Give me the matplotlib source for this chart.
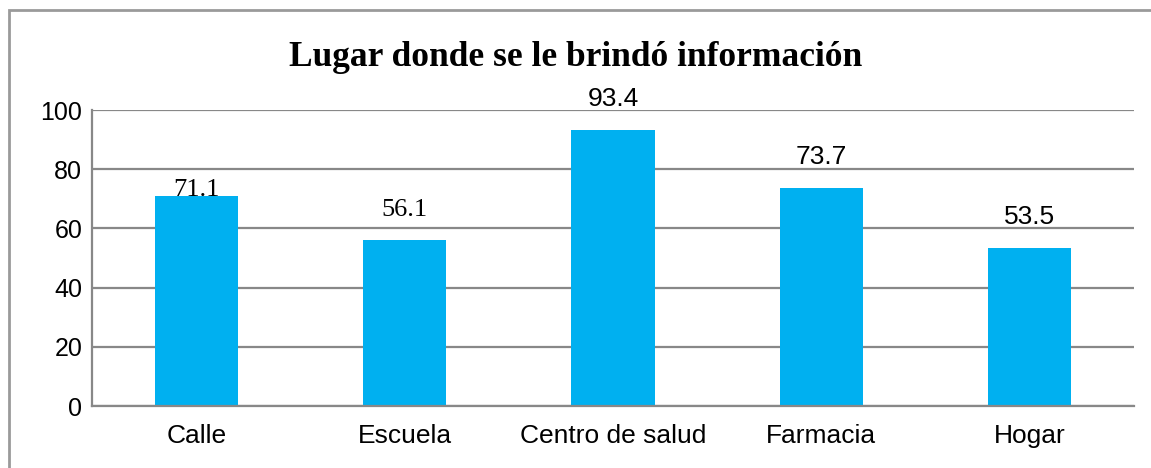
import matplotlib
matplotlib.use("Agg")
import matplotlib.pyplot as plt
from matplotlib.patches import Rectangle

# datos
lugares = ["Calle", "Escuela", "Centro de salud", "Farmacia", "Hogar"]
porcentajes = [71.1, 56.1, 93.4, 73.7, 53.5]
etiquetas = ["71.1", "56.1", "93.4", "73.7", "53.5"]
yticks = [0, 20, 40, 60, 80, 100]

W, H = 1151, 468
fig = plt.figure(figsize=(W / 100, H / 100), dpi=100)
fig.patch.set_facecolor("white")

# marco exterior
fig.patches.append(Rectangle((9 / W, -0.1), 1.2, 1.1 - 10 / H, transform=fig.transFigure,
                             fill=False, edgecolor="#9a9a9a", linewidth=2))

ax = fig.add_axes([92 / W, (H - 406) / H, (1134 - 92) / W, (406 - 110) / H])
x = range(len(lugares))
ax.bar(x, porcentajes, width=0.4, color="#00b0f0", zorder=2)

ax.set_xlim(-0.5, len(lugares) - 0.5)
ax.set_ylim(0, 100)
ax.set_yticks(yticks)
ax.set_yticklabels([str(t) for t in yticks], fontsize=18, family="Liberation Sans")
ax.set_xticks(list(x))
ax.set_xticklabels(lugares, fontsize=19, family="Liberation Sans")
ax.tick_params(length=0)
ax.tick_params(axis="y", pad=7)
ax.tick_params(axis="x", pad=13)

ax.grid(axis="y", color="#888888", linewidth=1.6, zorder=1)
for s in ["top", "right"]:
    ax.spines[s].set_visible(False)
for s in ["left", "bottom"]:
    ax.spines[s].set_color("#888888")
    ax.spines[s].set_linewidth(1.6)

# etiquetas de valor
for i, (v, t) in enumerate(zip(porcentajes, etiquetas)):
    if i < 2:
        fam = "Liberation Serif"
    else:
        fam = "Liberation Sans"
    off = 0 if i == 0 else 17
    ax.annotate(t, (i, v), xytext=(0, off), textcoords="offset points",
                ha="center", va="baseline", fontsize=19, family=fam)

fig.text(0.5, 1 - 57 / H, "Lugar donde se le brindó información", ha="center", va="center",
         fontsize=25.5, fontweight="bold", family="Liberation Serif")

fig.savefig("out.png", dpi=100)
